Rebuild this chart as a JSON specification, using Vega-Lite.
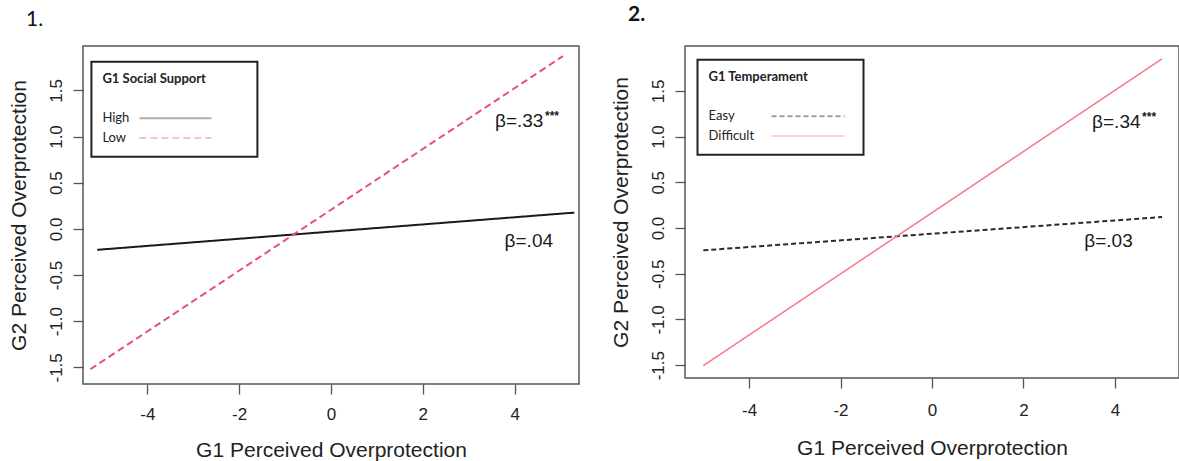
{
  "$schema": "https://vega.github.io/schema/vega-lite/v6.json",
  "padding": {"left": 7, "top": 3, "right": 0, "bottom": 0},
  "background": "white",
  "spacing": 29,
  "resolve": {
    "scale": {"color": "independent", "strokeDash": "independent", "strokeWidth": "independent"},
    "legend": {"color": "independent"}
  },
  "datasets": {
    "p1lines": [
      {"group": "High", "x": -5.09, "y": -0.227},
      {"group": "High", "x": 5.30, "y": 0.176},
      {"group": "Low", "x": -5.24, "y": -1.52},
      {"group": "Low", "x": 5.05, "y": 1.87}
    ],
    "p1notes": [
      {"x": 3.57, "y": 1.10, "label": "β=.33", "star": "***"},
      {"x": 3.78, "y": -0.195, "label": "β=.04", "star": ""}
    ],
    "p2lines": [
      {"group": "Easy", "x": -5.0, "y": -0.244},
      {"group": "Easy", "x": 5.03, "y": 0.12},
      {"group": "Difficult", "x": -5.0, "y": -1.505},
      {"group": "Difficult", "x": 5.03, "y": 1.85}
    ],
    "p2notes": [
      {"x": 3.5, "y": 1.09, "label": "β=.34", "star": "***"},
      {"x": 3.33, "y": -0.21, "label": "β=.03", "star": ""}
    ]
  },
  "config": {
    "view": {"stroke": "#555", "strokeWidth": 1.5},
    "axis": {
      "grid": false, "domain": false, "tickColor": "#555", "tickWidth": 1.3, "tickSize": 10,
      "labelFont": "Liberation Sans", "labelFontSize": 17, "labelColor": "#222",
      "titleFont": "Liberation Sans", "titleFontSize": 21, "titleFontWeight": "normal", "titleColor": "#222"
    },
    "axisX": {"labelPadding": 12, "titlePadding": 17},
    "axisY": {"labelAngle": 270, "labelAlign": "center", "labelBaseline": "bottom", "labelPadding": 8, "titlePadding": 18},
    "legend": {
      "orient": "none", "strokeColor": "#222", "strokeWidth": 2, "fillColor": "white", "padding": 11,
      "titleFont": "Lato", "titleFontSize": 13, "titleFontWeight": "bold", "titleColor": "#222", "titlePadding": 26,
      "labelFont": "Lato", "labelFontSize": 13, "labelColor": "#222",
      "symbolSize": 4, "symbolStrokeWidth": 2, "rowPadding": 5.7
    }
  },
  "hconcat": [
    {
      "width": 496, "height": 338,
      "title": {"text": "1.", "anchor": "start", "dx": 18, "offset": 16, "font": "Lato", "fontSize": 21, "fontWeight": "normal", "color": "#111"},
      "layer": [
        {
          "data": {"name": "p1lines"},
          "mark": {"type": "line", "strokeWidth": 2},
          "encoding": {
            "x": {"field": "x", "type": "quantitative", "scale": {"domain": [-5.4, 5.4], "nice": false, "zero": false},
                  "axis": {"values": [-4, -2, 0, 2, 4], "title": "G1 Perceived Overprotection", "labelExpr": "replace(datum.label, '\u2212', '-')"}},
            "y": {"field": "y", "type": "quantitative", "scale": {"domain": [-1.68, 1.98], "nice": false, "zero": false},
                  "axis": {"values": [-1.5, -1, -0.5, 0, 0.5, 1, 1.5], "format": ".1f", "title": "G2 Perceived Overprotection", "labelExpr": "replace(datum.label, '\u2212', '-')"}},
            "color": {"field": "group", "type": "nominal", "scale": {"domain": ["High", "Low"], "range": ["#1a1a1a", "#e35472"]},
              "legend": {
                "title": "G1 Social Support",
                "legendX": 8.4, "legendY": 15.7,
                "symbolType": "M-36,0H36M67,0",
                "symbolOpacity": 0.35,
                "encode": {
                  "symbols": {"update": {"x": {"value": 73}, "strokeWidth": {"value": 2}, "strokeDash": {"signal": "datum.value === 'Low' ? [4, 3] : [1, 0]"}}},
                  "labels": {"update": {"x": {"value": 0}, "align": {"value": "left"}}}
                }
              }},
            "strokeDash": {"field": "group", "type": "nominal", "scale": {"domain": ["High", "Low"], "range": [[1, 0], [7, 4]]}, "legend": null}
          }
        },
        {
          "data": {"name": "p1notes"},
          "mark": {"type": "text", "align": "left", "baseline": "alphabetic", "font": "Liberation Sans", "fontSize": 19, "color": "#1a1a1a"},
          "encoding": {
            "x": {"field": "x", "type": "quantitative"},
            "y": {"field": "y", "type": "quantitative"},
            "text": {"field": "label"}
          }
        },
        {
          "data": {"name": "p1notes"},
          "mark": {"type": "text", "align": "left", "baseline": "alphabetic", "font": "Liberation Sans", "fontSize": 12, "fontWeight": "bold", "color": "#1a1a1a", "dx": 50, "dy": -7},
          "encoding": {
            "x": {"field": "x", "type": "quantitative"},
            "y": {"field": "y", "type": "quantitative"},
            "text": {"field": "star"}
          }
        }
      ]
    },
    {
      "width": 494, "height": 332,
      "title": {"text": "2.", "anchor": "start", "dx": 18, "offset": 21, "font": "Lato", "fontSize": 21, "fontWeight": "bold", "color": "#111"},
      "layer": [
        {
          "data": {"name": "p2lines"},
          "mark": {"type": "line"},
          "encoding": {
            "x": {"field": "x", "type": "quantitative", "scale": {"domain": [-5.4, 5.4], "nice": false, "zero": false},
                  "axis": {"values": [-4, -2, 0, 2, 4], "title": "G1 Perceived Overprotection", "labelPadding": 14, "titlePadding": 19, "labelExpr": "replace(datum.label, '\u2212', '-')"}},
            "y": {"field": "y", "type": "quantitative", "scale": {"domain": [-1.64, 1.99], "nice": false, "zero": false},
                  "axis": {"values": [-1.5, -1, -0.5, 0, 0.5, 1, 1.5], "format": ".1f", "title": "G2 Perceived Overprotection", "labelExpr": "replace(datum.label, '\u2212', '-')"}},
            "color": {"field": "group", "type": "nominal", "scale": {"domain": ["Easy", "Difficult"], "range": ["#2a2a2a", "#f07a8c"]},
              "legend": {
                "title": "G1 Temperament",
                "legendX": 12.5, "legendY": 13.7,
                "symbolType": "M-36.5,0H36.5M40,0",
                "symbolOpacity": 0.45,
                "encode": {
                  "symbols": {"update": {"x": {"value": 99.5}, "strokeWidth": {"value": 2}, "strokeDash": {"signal": "datum.value === 'Easy' ? [4, 3] : [1, 0]"}}},
                  "labels": {"update": {"x": {"value": 0}, "align": {"value": "left"}}}
                }
              }},
            "strokeDash": {"field": "group", "type": "nominal", "scale": {"domain": ["Easy", "Difficult"], "range": [[5, 3], [1, 0]]}, "legend": null},
            "strokeWidth": {"field": "group", "type": "nominal", "scale": {"domain": ["Easy", "Difficult"], "range": [2, 1.5]}, "legend": null}
          }
        },
        {
          "data": {"name": "p2notes"},
          "mark": {"type": "text", "align": "left", "baseline": "alphabetic", "font": "Liberation Sans", "fontSize": 19, "color": "#1a1a1a"},
          "encoding": {
            "x": {"field": "x", "type": "quantitative"},
            "y": {"field": "y", "type": "quantitative"},
            "text": {"field": "label"}
          }
        },
        {
          "data": {"name": "p2notes"},
          "mark": {"type": "text", "align": "left", "baseline": "alphabetic", "font": "Liberation Sans", "fontSize": 12, "fontWeight": "bold", "color": "#1a1a1a", "dx": 50, "dy": -7},
          "encoding": {
            "x": {"field": "x", "type": "quantitative"},
            "y": {"field": "y", "type": "quantitative"},
            "text": {"field": "star"}
          }
        }
      ]
    }
  ]
}
